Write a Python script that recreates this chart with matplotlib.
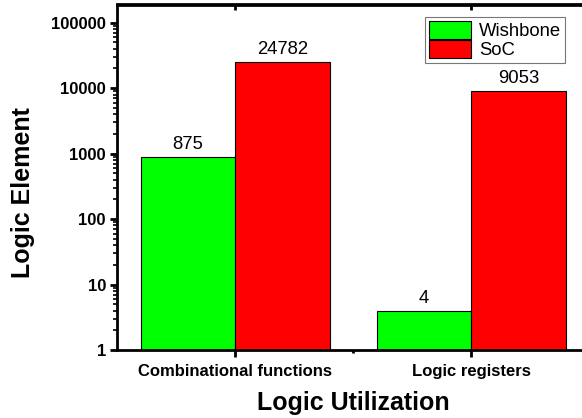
import matplotlib
matplotlib.use("Agg")
import matplotlib.pyplot as plt
import numpy as np
from matplotlib.ticker import LogLocator, FixedLocator, NullFormatter

plt.rcParams['font.family'] = ['Liberation Sans', 'DejaVu Sans']

categories = ["Combinational functions", "Logic registers"]
series_names = ["Wishbone", "SoC"]
wishbone = [875, 4]
soc = [24782, 9053]
colors = ["#00FF00", "#FF0000"]
yticks = [1, 10, 100, 1000, 10000, 100000]

W, H = 582, 418
fig = plt.figure(figsize=(W/100, H/100), dpi=100)
ax_l, ax_r, ax_t, ax_b = 117, 589.5, 4.5, 350
ax = fig.add_axes([ax_l/W, 1-ax_b/H, (ax_r-ax_l)/W, (ax_b-ax_t)/H])

x = np.arange(1, len(categories)+1)
w = 0.4
b1 = ax.bar(x - w/2, wishbone, w, color=colors[0], edgecolor='black', linewidth=0.8, label=series_names[0])
b2 = ax.bar(x + w/2, soc, w, color=colors[1], edgecolor='black', linewidth=0.8, label=series_names[1])

for bars, vals in ((b1, wishbone), (b2, soc)):
    for r, v in zip(bars, vals):
        ax.annotate(str(v), (r.get_x()+r.get_width()/2, v), xytext=(0, 5.8),
                    textcoords='offset points', ha='center', va='baseline', fontsize=13.3)

ax.set_yscale('log')
ax.set_ylim(1, 1.9e5)
ax.set_xlim(0.5, 2.5)
ax.set_yticks(yticks)
ax.set_yticklabels([str(t) for t in yticks], fontweight='bold', fontsize=12)
ax.yaxis.set_minor_locator(LogLocator(base=10, subs=np.arange(2, 10)))
ax.yaxis.set_minor_formatter(NullFormatter())
ax.set_xticks(x)
ax.set_xticklabels(categories, fontweight='bold', fontsize=12)
ax.xaxis.set_minor_locator(FixedLocator([1.5]))

for s in ax.spines.values():
    s.set_linewidth(2)
ax.tick_params(axis='y', which='major', direction='out', length=5, width=2, right=False, pad=3)
ax.tick_params(axis='y', which='minor', direction='out', length=3, width=1.2, right=False)
ax.tick_params(axis='x', which='major', direction='out', length=5, width=2, top=False, pad=5)
ax.tick_params(axis='x', which='minor', direction='out', length=2, width=2, top=False)

top = ax.secondary_xaxis('top')
top.set_xticks(x)
top.set_xticklabels([])
top.tick_params(axis='x', direction='in', length=4, width=2)
top.spines['top'].set_linewidth(2)

fig.text(353/W, 1-410/H, "Logic Utilization", fontweight='bold', fontsize=18,
         ha='center', va='baseline')
fig.text(23/W, 1-193/H, "Logic Element", fontweight='bold', fontsize=18,
         ha='center', va='center', rotation=90)

leg = ax.legend(loc='upper right', bbox_to_anchor=((565-ax_l)/(ax_r-ax_l), 1-(17-ax_t)/(ax_b-ax_t)),
                fontsize=13.3, frameon=True, fancybox=False, borderpad=0.22,
                handlelength=2.3, handleheight=1.1, handletextpad=0.42, labelspacing=0.0,
                borderaxespad=0)
leg.get_frame().set_edgecolor('#555555')
leg.get_frame().set_linewidth(0.8)

fig.savefig("out.png", dpi=100)
